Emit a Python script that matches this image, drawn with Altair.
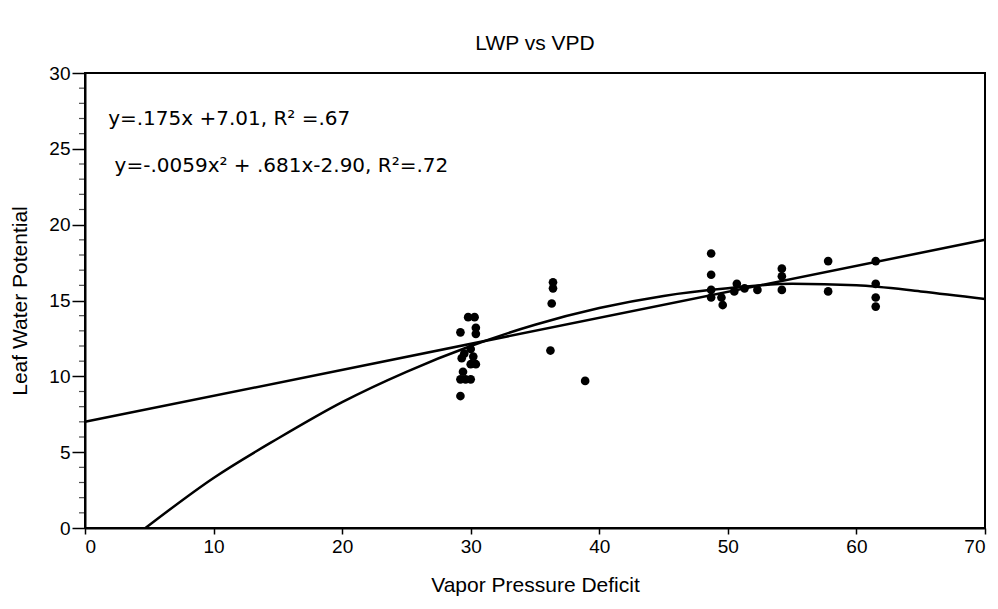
import altair as alt
import pandas as pd

# scatter observations (VPD, LWP)
vpd = [29.2, 29.2, 29.4, 29.6, 30.0, 29.3, 29.2, 29.8, 30.3, 30.4, 30.4, 30.0, 30.2, 30.4, 30.0, 29.5,
       36.4, 36.4, 36.3, 36.2, 38.9,
       48.7, 48.7, 48.7, 48.7, 49.5, 49.6, 50.5, 50.7, 51.3, 52.3,
       54.2, 54.2, 54.2, 57.8, 57.8, 61.5, 61.5, 61.5, 61.5]
lwp = [8.7, 9.8, 10.3, 9.8, 9.8, 11.2, 12.9, 13.9, 13.9, 13.2, 12.8, 11.8, 11.3, 10.8, 10.8, 11.5,
       16.2, 15.8, 14.8, 11.7, 9.7,
       18.1, 16.7, 15.7, 15.2, 15.2, 14.7, 15.6, 16.1, 15.8, 15.7,
       17.1, 16.6, 15.7, 17.6, 15.6, 17.6, 16.1, 15.2, 14.6]

# linear fit line
lin_x = [0, 70]
lin_y = [7.0, 19.0]

# quadratic fit curve
quad_x = [4.7, 10, 15, 20, 25, 30, 35, 40, 45, 50, 55, 60, 65, 70]
quad_y = [0.0, 3.3, 5.9, 8.3, 10.3, 12.0, 13.4, 14.5, 15.3, 15.8, 16.1, 16.0, 15.6, 15.1]

ann_x = [1.8, 2.3]
ann_y = [26.6, 23.5]
ann_text = ["y=.175x +7.01, R\u00b2 =.67", "y=-.0059x\u00b2 + .681x-2.90, R\u00b2=.72"]

x_ticks = [0, 10, 20, 30, 40, 50, 60, 70]
y_ticks = [0, 5, 10, 15, 20, 25, 30]

FONT = "Liberation Sans"

pts = pd.DataFrame({"x": vpd, "y": lwp})
lin = pd.DataFrame({"x": lin_x, "y": lin_y})
quad = pd.DataFrame({"x": quad_x, "y": quad_y})
ann = pd.DataFrame({"x": ann_x, "y": ann_y, "t": ann_text})

xs = alt.Scale(domain=[0, 70], nice=False, zero=False)
ys = alt.Scale(domain=[0, 30], nice=False, zero=False)

xax = alt.Axis(title="Vapor Pressure Deficit", values=x_ticks, tickSize=6, labelPadding=3,
               titlePadding=18, grid=False)
yax = alt.Axis(title="Leaf Water Potential", values=y_ticks, tickSize=13, labelPadding=2,
               titlePadding=18, grid=False)

points = alt.Chart(pts).mark_circle(color="black", opacity=1, size=75).encode(
    x=alt.X("x:Q", scale=xs, axis=xax),
    y=alt.Y("y:Q", scale=ys, axis=yax),
)

minor = alt.Chart(pd.DataFrame({"y": [v for v in range(0, 31) if v % 5 != 0]})).mark_tick(
    color="black", thickness=1.2, size=6, orient="horizontal"
).encode(
    x=alt.value(-3),
    y=alt.Y("y:Q", scale=ys, axis=yax),
)

line1 = alt.Chart(lin).mark_line(color="black", strokeWidth=2.5).encode(
    x=alt.X("x:Q", scale=xs, axis=xax), y=alt.Y("y:Q", scale=ys, axis=yax))
line2 = alt.Chart(quad).mark_line(color="black", strokeWidth=2.5, interpolate="monotone").encode(
    x=alt.X("x:Q", scale=xs, axis=xax), y=alt.Y("y:Q", scale=ys, axis=yax))

text = alt.Chart(ann).mark_text(align="left", baseline="alphabetic", font="DejaVu Sans",
                                fontSize=20, color="black").encode(
    x=alt.X("x:Q", scale=xs, axis=xax), y=alt.Y("y:Q", scale=ys, axis=yax), text="t:N")

chart = alt.layer(points, line1, line2, minor, text).properties(
    width=900, height=455,
    background="white",
    title=alt.TitleParams("LWP vs VPD", font=FONT, fontSize=21, fontWeight="normal",
                          color="black", offset=10, anchor="middle"),
    padding={"left": 77, "top": 65, "right": 5, "bottom": 68},
    autosize=alt.AutoSizeParams(type="none"),
).configure_view(
    stroke="black", strokeWidth=2
).configure_axis(
    grid=False, domain=True, domainColor="black", domainWidth=2,
    tickColor="black", tickWidth=1.5,
    labelFont=FONT, labelFontSize=19, labelColor="black",
    titleFont=FONT, titleFontSize=21, titleFontWeight="normal", titleColor="black",
)

chart.save("out.html", embed_options={"renderer": "svg", "actions": False})
